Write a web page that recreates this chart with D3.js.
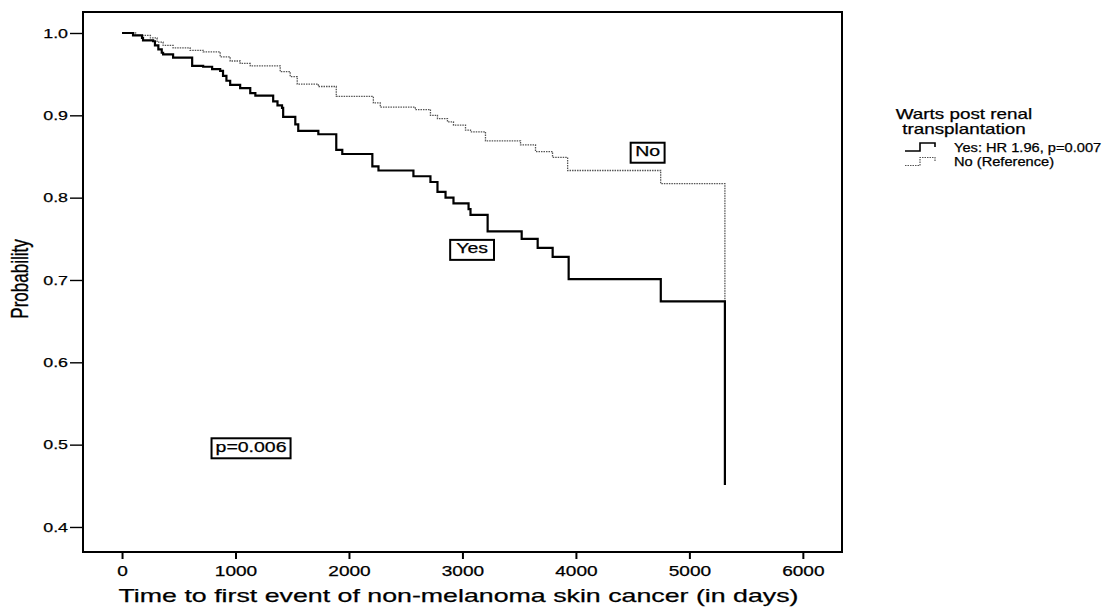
<!DOCTYPE html>
<html>
<head>
<meta charset="utf-8">
<script src="https://cdn.jsdelivr.net/npm/d3@7"></script>
<style>
  html, body { margin: 0; padding: 0; background: #fff; }
  svg { display: block; }
  text { font-family: "Liberation Sans", Arial, sans-serif; fill: #000; stroke: #000; stroke-width: 0.25px; }
</style>
</head>
<body>
<svg id="chart" width="1111" height="613"></svg>
<script>
// Kaplan-Meier estimates: days since transplant and survival probability
const yesDays = [0, 97, 176, 185, 274, 290, 320, 350, 362, 450, 618, 715, 794, 865, 890, 920, 953, 1041, 1130, 1175, 1332, 1370, 1410, 1420, 1527, 1553, 1730, 1888, 1941, 2206, 2260, 2568, 2718, 2780, 2851, 2921, 3054, 3071, 3222, 3522, 3663, 3795, 3936, 4748, 5313];
const yesProb = [1.0, 0.997, 0.994, 0.991, 0.990, 0.985, 0.980, 0.976, 0.974, 0.970, 0.960, 0.959, 0.956, 0.954, 0.948, 0.942, 0.937, 0.933, 0.927, 0.924, 0.917, 0.912, 0.909, 0.898, 0.889, 0.881, 0.877, 0.858, 0.853, 0.838, 0.833, 0.826, 0.819, 0.807, 0.800, 0.793, 0.786, 0.779, 0.759, 0.750, 0.739, 0.728, 0.701, 0.674, 0.451];

const noDays = [0, 120, 250, 309, 362, 450, 600, 715, 865, 953, 1041, 1130, 1394, 1482, 1544, 1730, 1888, 2215, 2276, 2585, 2718, 2780, 2868, 2921, 3027, 3071, 3203, 3512, 3644, 3794, 3927, 4747, 5313];
const noProb = [1.0, 0.997, 0.994, 0.989, 0.985, 0.982, 0.979, 0.977, 0.971, 0.966, 0.963, 0.960, 0.953, 0.947, 0.938, 0.935, 0.923, 0.915, 0.910, 0.907, 0.900, 0.896, 0.892, 0.888, 0.882, 0.880, 0.869, 0.864, 0.856, 0.849, 0.833, 0.817, 0.451];

const xTicks = [0, 1000, 2000, 3000, 4000, 5000, 6000];
const yTicks = [0.4, 0.5, 0.6, 0.7, 0.8, 0.9, 1.0];

const legendTitle = ["Warts post renal", "transplantation"];
const legendLabels = ["Yes: HR 1.96, p=0.007", "No (Reference)"];
const curveLabels = [{text: "No", day: 4632, prob: 0.857}, {text: "Yes", day: 3085, prob: 0.739}];
const pLabel = {text: "p=0.006", day: 1137, prob: 0.498};

const svg = d3.select("#chart");
const L = 83, R = 842, T = 12, B = 552;
const SX = 1.36; // horizontal widening of the lettering

const x = d3.scaleLinear().domain([-344, 6345]).range([L, R]);
const y = d3.scaleLinear().domain([0.3696, 1.0255]).range([B, T]);

// widen a text element horizontally about its anchor point
function widen(sel, k) {
  sel.each(function () {
    const t = d3.select(this);
    const w = this.getComputedTextLength();
    t.attr("textLength", w * k).attr("lengthAdjust", "spacingAndGlyphs");
  });
}

// frame
svg.append("rect")
  .attr("x", L).attr("y", T).attr("width", R - L).attr("height", B - T)
  .attr("fill", "none").attr("stroke", "#000").attr("stroke-width", 2);

// y axis
const yAxis = d3.axisLeft(y).tickValues(yTicks).tickFormat(d3.format(".1f"))
  .tickSize(13).tickPadding(2);
const gy = svg.append("g").attr("transform", `translate(${L},0)`).call(yAxis);
gy.select(".domain").remove();
gy.selectAll(".tick line").attr("stroke", "#000").attr("stroke-width", 1.4);
gy.selectAll(".tick text")
  .style("font-size", "13.5px").style("font-family", "Liberation Sans, Arial, sans-serif")
  .call(widen, 1.32);

// x axis
const xAxis = d3.axisBottom(x).tickValues(xTicks).tickFormat(d3.format("d"))
  .tickSize(7).tickPadding(7);
const gx = svg.append("g").attr("transform", `translate(0,${B})`).call(xAxis);
gx.select(".domain").remove();
gx.selectAll(".tick line").attr("stroke", "#000").attr("stroke-width", 2);
gx.selectAll(".tick text")
  .style("font-size", "14px").style("font-family", "Liberation Sans, Arial, sans-serif")
  .call(widen, SX);

// axis titles
svg.append("text")
  .attr("x", (L + R) / 2 - 4).attr("y", 602)
  .attr("text-anchor", "middle")
  .style("font-size", "19px")
  .text("Time to first event of non-melanoma skin cancer (in days)")
  .attr("textLength", 680).attr("lengthAdjust", "spacingAndGlyphs");

svg.append("text")
  .attr("transform", `translate(28,${(T + B) / 2 - 3}) scale(${SX},1) rotate(-90)`)
  .attr("text-anchor", "middle")
  .style("font-size", "17px")
  .text("Probability");

// survival curves
const step = d3.line().x(d => x(d[0])).y(d => y(d[1])).curve(d3.curveStepAfter);

svg.append("path")
  .datum(d3.zip(noDays, noProb))
  .attr("d", step)
  .attr("fill", "none")
  .attr("stroke", "#555")
  .attr("stroke-width", 1.3)
  .attr("stroke-dasharray", "1.5,1");

svg.append("path")
  .datum(d3.zip(yesDays, yesProb))
  .attr("d", step)
  .attr("fill", "none")
  .attr("stroke", "#000")
  .attr("stroke-width", 2.2);

// boxed annotations
function boxLabel(t, cx, cy, size, padX) {
  const g = svg.append("g");
  const txt = g.append("text")
    .attr("x", cx).attr("y", cy)
    .attr("text-anchor", "middle")
    .attr("dominant-baseline", "central")
    .style("font-size", size + "px")
    .text(t)
    .call(widen, 1.3);
  const bb = txt.node().getBBox();
  g.insert("rect", "text")
    .attr("x", bb.x - padX).attr("y", bb.y + 0.5)
    .attr("width", bb.width + 2 * padX).attr("height", bb.height + 3)
    .attr("fill", "#fff").attr("stroke", "#000").attr("stroke-width", 2);
}
curveLabels.forEach(c => boxLabel(c.text, x(c.day), y(c.prob), 15, c.text === "Yes" ? 6 : 4.5));
boxLabel(pLabel.text, x(pLabel.day), y(pLabel.prob), 15, 4);

// legend
const lg = svg.append("g");
legendTitle.forEach((t, i) => {
  lg.append("text")
    .attr("x", 964).attr("y", 119 + i * 15)
    .attr("text-anchor", "middle")
    .style("font-size", "14.5px")
    .text(t)
    .call(widen, 1.3);
});
const legendStyles = [
  {stroke: "#000", width: 1.6, dash: null},
  {stroke: "#555", width: 1.2, dash: "1.5,1"}
];
legendLabels.forEach((t, i) => {
  const cy = 147 + i * 14.5;
  lg.append("path")
    .attr("d", `M905,${cy + 4}H920V${cy - 4}H935V${cy}`)
    .attr("fill", "none")
    .attr("stroke", legendStyles[i].stroke)
    .attr("stroke-width", legendStyles[i].width)
    .attr("stroke-dasharray", legendStyles[i].dash);
  lg.append("text")
    .attr("x", 954).attr("y", cy + 4.5)
    .style("font-size", "12px")
    .text(t)
    .call(widen, 1.22);
});
</script>
</body>
</html>
